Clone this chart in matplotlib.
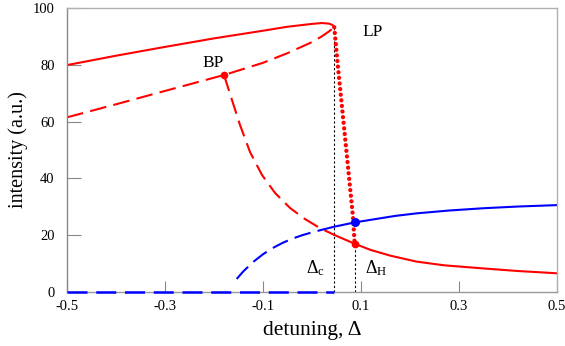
import matplotlib
matplotlib.use("Agg")
import matplotlib.pyplot as plt

plt.rcParams["font.family"] = ["Liberation Serif", "DejaVu Serif"]
plt.rcParams["mathtext.fontset"] = "custom"
plt.rcParams["mathtext.rm"] = "Liberation Serif"
plt.rcParams["mathtext.it"] = "Liberation Serif:italic"

# upper stable branch (solid red)
upper_x = [-0.5, -0.4, -0.3, -0.2, -0.1, -0.05, 0.0, 0.02, 0.035, 0.042, 0.0455]
upper_y = [79.9, 83.2, 86.3, 89.3, 92.0, 93.4, 94.4, 94.7, 94.5, 94.0, 93.2]
# middle unstable branch (dashed red), from left edge through BP to LP
mid_x = [-0.5, -0.4, -0.3, -0.1796, -0.1, -0.05, 0.0, 0.02, 0.035, 0.0455]
mid_y = [61.5, 66.1, 70.8, 76.4, 80.7, 84.1, 88.0, 90.0, 91.8, 93.2]
# branch leaving BP downward (dashed red until delta_c)
low_dash_x = [-0.1796, -0.1633, -0.1469, -0.1265, -0.102, -0.0755, -0.0449,
              -0.0143, 0.0163, 0.0455]
low_dash_y = [76.4, 67.6, 58.8, 49.3, 41.2, 34.9, 29.6, 25.7, 22.5, 20.1]
low_solid_x = [0.0455, 0.087, 0.12, 0.16, 0.2136, 0.27, 0.35, 0.42, 0.5]
low_solid_y = [20.1, 17.0, 14.8, 12.8, 10.7, 9.4, 8.3, 7.4, 6.6]
# dotted red: LP to Hopf point
dot_x = [0.0455, 0.053, 0.0633, 0.0735, 0.0837, 0.087]
dot_y = [93.2, 79.2, 61.6, 44.0, 26.4, 17.0]
# blue branch
blue_dash_x = [-0.1537, -0.14, -0.12, -0.10, -0.08, -0.06, -0.04, -0.02, 0.0,
               0.02, 0.0455]
blue_dash_y = [4.6, 7.3, 10.6, 13.3, 15.5, 17.3, 18.8, 20.0, 21.0, 21.9, 23.0]
blue_solid_x = [0.0455, 0.087, 0.13, 0.17, 0.2136, 0.28, 0.35, 0.42, 0.5]
blue_solid_y = [23.0, 24.5, 25.7, 26.8, 27.7, 28.7, 29.5, 30.1, 30.6]
blue_zero_x = [-0.5, 0.0455]
blue_zero_y = [0.0, 0.0]

delta_c = 0.0455
delta_h = 0.087
bp = (-0.1796, 76.4)
hopf_red = (0.087, 17.0)
hopf_blue = (0.087, 24.5)

xticks = [-0.5, -0.3, -0.1, 0.1, 0.3, 0.5]
yticks = [0, 20, 40, 60, 80, 100]

RED = "#ff0000"
BLUE = "#0000ff"
DASH = (8, 3.5)

fig = plt.figure(figsize=(5.65, 3.46), dpi=100)
ax = fig.add_axes([0.1186, 0.156, 0.8672, 0.8209])

ax.plot(upper_x, upper_y, color=RED, lw=1.5)
ax.plot(mid_x, mid_y, color=RED, lw=1.5, dashes=DASH)
ax.plot(low_dash_x, low_dash_y, color=RED, lw=1.5, dashes=DASH)
ax.plot(low_solid_x, low_solid_y, color=RED, lw=1.5)
ax.plot(dot_x, dot_y, color=RED, lw=3.1, dashes=(0.01, 1.3),
        dash_capstyle="round")

ax.plot(blue_dash_x, blue_dash_y, color=BLUE, lw=1.5, dashes=DASH)
ax.plot(blue_solid_x, blue_solid_y, color=BLUE, lw=1.5)
ax.plot(blue_zero_x, blue_zero_y, color=BLUE, lw=1.8, dashes=DASH,
        clip_on=False, zorder=5)

# dotted guides at delta_c and delta_H
ax.plot([delta_c, delta_c], [0, upper_y[-1]], color="black", lw=0.8,
        dashes=(2, 2), zorder=1)
ax.plot([delta_h, delta_h], [0, hopf_red[1]], color="black", lw=0.8,
        dashes=(2, 2), zorder=1)

ax.plot(*bp, "o", color=RED, ms=4.5)
ax.plot(*hopf_red, "o", color=RED, ms=4.5)
ax.plot(*hopf_blue, "o", color=BLUE, ms=5.5, zorder=6)

ax.text(0.1245, 91.5, "LP", fontsize=12.5, ha="center", va="center")
ax.text(-0.202, 80.6, "BP", fontsize=12.5, ha="center", va="center")
ax.text(0.008, 8.5, r"$\Delta_{\mathrm{c}}$", fontsize=13, ha="center",
        va="center")
ax.text(0.1306, 8.5, r"$\Delta_{\mathrm{H}}$", fontsize=13, ha="center",
        va="center")

ax.set_xlim(-0.5, 0.5)
ax.set_ylim(0, 100)
ax.set_xticks(xticks)
ax.set_yticks(yticks)
ax.set_xticklabels([f"{t:.1f}" for t in xticks])
ax.tick_params(axis="both", direction="in", colors="#888888",
               labelcolor="black", labelsize=10.5)
ax.tick_params(axis="x", length=8, pad=6)
ax.tick_params(axis="y", length=10, pad=9)
for s in ax.spines.values():
    s.set_color("#b0b0b0")
    s.set_linewidth(1.0)
ax.spines["left"].set_color("#888888")
ax.spines["bottom"].set_color("#999999")

ax.set_xlabel("detuning, Δ", fontsize=15.5, va="center")
ax.set_ylabel("intensity (a.u.)", fontsize=14.5, va="center")
ax.xaxis.set_label_coords(0.5, -0.134)
ax.yaxis.set_label_coords(-0.1, 0.5)

fig.savefig("out.png", dpi=100)
